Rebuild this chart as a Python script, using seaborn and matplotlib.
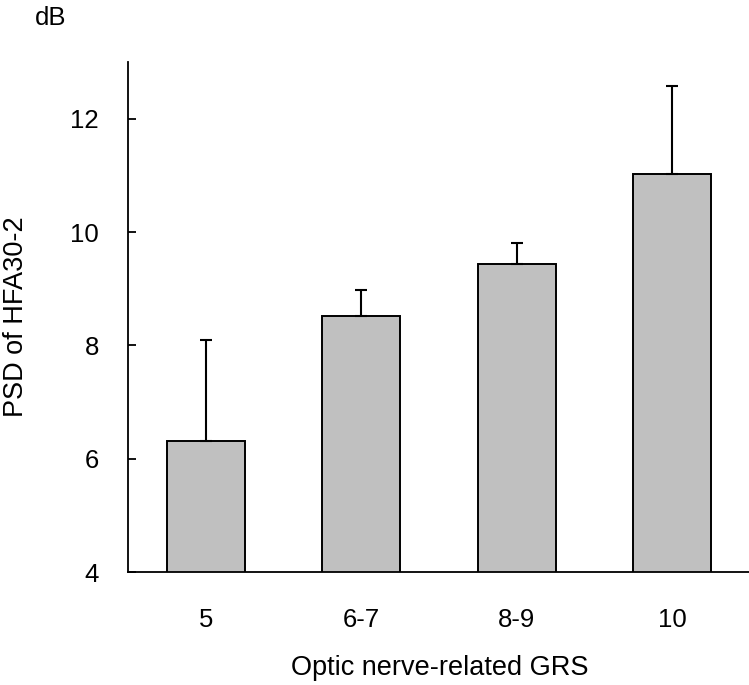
import matplotlib
matplotlib.use("Agg")
import matplotlib.pyplot as plt
import seaborn as sns
import pandas as pd
import numpy as np

categories = ["5", "6-7", "8-9", "10"]
means = [6.32, 8.52, 9.44, 11.02]
upper = [8.10, 8.97, 9.81, 12.58]
y_ticks = [4, 6, 8, 10, 12]

sns.set_theme(style="white")
plt.rcParams['font.family'] = ['Liberation Sans', 'DejaVu Sans']

FS = 18.5
FL = 19.5
df = pd.DataFrame({"grs": categories, "psd": means})

fig = plt.figure(figsize=(7.49, 6.85), dpi=100)
ax = fig.add_axes([128/749, 1-572/685, (750-128)/749, (572-62)/685])

sns.barplot(data=df, x="grs", y="psd", order=categories, color="#c0c0c0",
            edgecolor="black", linewidth=1.4, width=0.5, saturation=1, ax=ax,
            errorbar=None)
errs = np.array(upper) - np.array(means)
ax.errorbar(np.arange(len(categories)), means, yerr=[np.zeros(len(errs)), errs],
            fmt="none", ecolor="black", elinewidth=1.5, capsize=4, capthick=1.5, zorder=3)

ax.set_ylim(4, 13)
ax.set_xlim(-0.5, 3.5)
ax.set_yticks(y_ticks)
ax.set_yticklabels([str(t) for t in y_ticks], fontsize=FS)
ax.set_xticks(range(len(categories)))
ax.set_xticklabels(categories, fontsize=FS)
ax.tick_params(axis="y", direction="in", length=6, width=1.3, pad=21, left=True, colors="black")
ax.tick_params(axis="x", length=0, pad=26, colors="black")
for s in ["top", "right"]:
    ax.spines[s].set_visible(False)
for s in ["left", "bottom"]:
    ax.spines[s].set_color("black")
    ax.spines[s].set_linewidth(1.3)

ax.set_xlabel("Optic nerve-related GRS", fontsize=FL, color="black")
ax.xaxis.set_label_coords((440-128)/(750-128), -(668-572)/(572-62))
ax.xaxis.label.set_va("center")
ax.set_ylabel("PSD of HFA30-2", fontsize=FL, color="black")
ax.yaxis.set_label_coords(-(128-16)/(750-128), 0.5)
ax.yaxis.label.set_va("center")
fig.text(35/749, 1-18/685, "dB", fontsize=FS, color="black", va="center", ha="left")

fig.savefig("out.png", dpi=100)
